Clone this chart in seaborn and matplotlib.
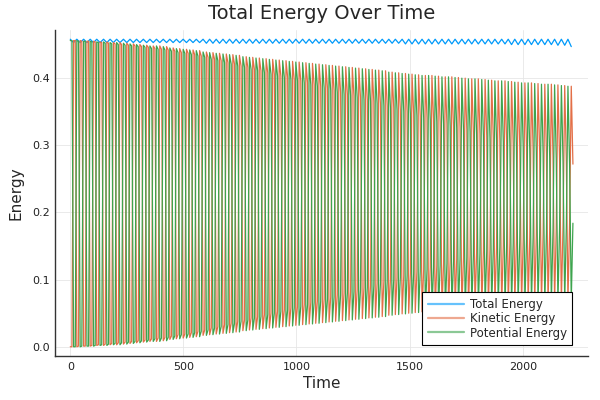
import pandas as pd
import seaborn as sns
import matplotlib.pyplot as plt

# ---------------------------------------------------------------- data
# start time of each oscillation cycle
cycle_start = [0, 29, 59, 88, 117, 147, 176, 205, 235, 264,
               293, 323, 352, 381, 411, 440, 469, 499, 528, 557,
               587, 616, 645, 675, 704, 733, 763, 792, 821, 851,
               880, 909, 939, 968, 997, 1027, 1056, 1085, 1115, 1144,
               1173, 1203, 1232, 1261, 1291, 1320, 1349, 1379, 1408, 1437,
               1467, 1496, 1525, 1555, 1584, 1613, 1643, 1672, 1701, 1731,
               1760, 1789, 1819, 1848, 1877, 1907, 1936, 1965, 1995, 2024,
               2053, 2083, 2112, 2141, 2171, 2200]
# sample times inside one cycle
sample_offsets = [0.0, 7.3, 14.7, 22.0]

# envelopes of the oscillating energies, one value per cycle
upper_peak = [0.456, 0.456, 0.455, 0.455, 0.454, 0.454, 0.453, 0.453, 0.452, 0.451,
              0.450, 0.449, 0.448, 0.448, 0.447, 0.445, 0.444, 0.443, 0.442, 0.441,
              0.439, 0.438, 0.437, 0.436, 0.435, 0.434, 0.432, 0.431, 0.430, 0.429,
              0.428, 0.427, 0.426, 0.425, 0.424, 0.423, 0.422, 0.421, 0.420, 0.419,
              0.418, 0.417, 0.416, 0.415, 0.414, 0.413, 0.412, 0.411, 0.409, 0.408,
              0.407, 0.406, 0.405, 0.404, 0.404, 0.403, 0.402, 0.402, 0.401, 0.400,
              0.399, 0.399, 0.398, 0.397, 0.396, 0.396, 0.395, 0.394, 0.393, 0.393,
              0.392, 0.391, 0.391, 0.390, 0.389, 0.388]
upper_inner = [0.456, 0.455, 0.455, 0.454, 0.453, 0.452, 0.451, 0.450, 0.449, 0.448,
               0.447, 0.446, 0.444, 0.443, 0.442, 0.440, 0.438, 0.437, 0.435, 0.433,
               0.431, 0.428, 0.426, 0.423, 0.421, 0.418, 0.416, 0.413, 0.411, 0.408,
               0.406, 0.403, 0.401, 0.398, 0.396, 0.393, 0.390, 0.388, 0.385, 0.382,
               0.379, 0.376, 0.374, 0.371, 0.368, 0.365, 0.362, 0.359, 0.356, 0.353,
               0.350, 0.347, 0.344, 0.341, 0.338, 0.335, 0.332, 0.329, 0.326, 0.323,
               0.320, 0.317, 0.314, 0.311, 0.308, 0.305, 0.302, 0.299, 0.296, 0.293,
               0.290, 0.287, 0.283, 0.280, 0.276, 0.272]
lower_trough = [0.000, 0.000, 0.001, 0.001, 0.002, 0.002, 0.003, 0.003, 0.004, 0.005,
                0.006, 0.007, 0.008, 0.008, 0.009, 0.011, 0.012, 0.013, 0.014, 0.015,
                0.017, 0.018, 0.019, 0.020, 0.021, 0.022, 0.024, 0.025, 0.026, 0.027,
                0.028, 0.029, 0.030, 0.031, 0.032, 0.033, 0.034, 0.035, 0.036, 0.037,
                0.038, 0.039, 0.040, 0.041, 0.042, 0.043, 0.044, 0.045, 0.047, 0.048,
                0.049, 0.050, 0.051, 0.052, 0.052, 0.053, 0.054, 0.054, 0.055, 0.056,
                0.057, 0.057, 0.058, 0.059, 0.060, 0.060, 0.061, 0.062, 0.063, 0.063,
                0.064, 0.065, 0.065, 0.066, 0.067, 0.068]
lower_inner = [0.000, 0.001, 0.001, 0.002, 0.003, 0.004, 0.005, 0.006, 0.007, 0.008,
               0.009, 0.010, 0.012, 0.013, 0.014, 0.016, 0.018, 0.019, 0.021, 0.023,
               0.025, 0.028, 0.030, 0.033, 0.035, 0.038, 0.040, 0.043, 0.045, 0.048,
               0.050, 0.053, 0.055, 0.058, 0.060, 0.063, 0.066, 0.068, 0.071, 0.074,
               0.077, 0.080, 0.082, 0.085, 0.088, 0.091, 0.094, 0.097, 0.100, 0.103,
               0.106, 0.109, 0.112, 0.115, 0.118, 0.121, 0.124, 0.127, 0.130, 0.133,
               0.136, 0.139, 0.142, 0.145, 0.148, 0.151, 0.154, 0.157, 0.160, 0.163,
               0.166, 0.169, 0.173, 0.176, 0.180, 0.184]

# total energy wiggle, high and low value per cycle
total_hi = [0.458, 0.458, 0.458, 0.458, 0.458, 0.458, 0.458, 0.458, 0.458, 0.458,
            0.458, 0.458, 0.458, 0.458, 0.458, 0.458, 0.458, 0.458, 0.458, 0.458,
            0.458, 0.458, 0.458, 0.458, 0.458, 0.458, 0.458, 0.458, 0.458, 0.458,
            0.458, 0.458, 0.458, 0.458, 0.458, 0.458, 0.458, 0.458, 0.458, 0.458,
            0.458, 0.458, 0.458, 0.458, 0.458, 0.458, 0.458, 0.458, 0.458, 0.458,
            0.458, 0.458, 0.458, 0.458, 0.458, 0.458, 0.458, 0.458, 0.458, 0.458,
            0.458, 0.458, 0.458, 0.458, 0.458, 0.458, 0.458, 0.458, 0.458, 0.458,
            0.458, 0.458, 0.458, 0.458, 0.458, 0.458]
total_lo = [0.453, 0.453, 0.453, 0.453, 0.453, 0.453, 0.453, 0.453, 0.453, 0.453,
            0.453, 0.453, 0.453, 0.453, 0.453, 0.453, 0.453, 0.453, 0.453, 0.453,
            0.452, 0.452, 0.452, 0.452, 0.452, 0.452, 0.452, 0.452, 0.452, 0.452,
            0.452, 0.452, 0.452, 0.452, 0.452, 0.452, 0.452, 0.452, 0.452, 0.452,
            0.452, 0.452, 0.452, 0.452, 0.452, 0.452, 0.452, 0.452, 0.452, 0.452,
            0.451, 0.451, 0.451, 0.451, 0.451, 0.451, 0.451, 0.451, 0.451, 0.451,
            0.451, 0.451, 0.451, 0.451, 0.451, 0.451, 0.450, 0.450, 0.450, 0.450,
            0.450, 0.450, 0.450, 0.449, 0.449, 0.447]

series_names = ['Total Energy', 'Kinetic Energy', 'Potential Energy']
series_colors = ['#009AFA', '#E36F47', '#3EA44E']


def build_frame():
    rows = []
    for k, t0 in enumerate(cycle_start):
        rows.append((t0 + sample_offsets[0], total_hi[k], 'Total Energy'))
        rows.append((t0 + sample_offsets[2], total_lo[k], 'Total Energy'))
        pe_vals = [upper_peak[k], upper_inner[k], lower_trough[k], lower_inner[k]]
        ke_vals = [lower_trough[k], lower_inner[k], upper_peak[k], upper_inner[k]]
        for off, ke, pe in zip(sample_offsets, ke_vals, pe_vals):
            rows.append((t0 + off, ke, 'Kinetic Energy'))
            rows.append((t0 + off, pe, 'Potential Energy'))
    return pd.DataFrame(rows, columns=['Time', 'Energy', 'Series'])


def main():
    df = build_frame()
    sns.set_style('white')
    plt.rcParams['font.family'] = ['DejaVu Sans']

    fig = plt.figure(figsize=(6, 4), dpi=100)
    ax = fig.add_axes([0.092, 0.11, 0.888, 0.815])
    sns.lineplot(data=df, x='Time', y='Energy', hue='Series', hue_order=series_names,
                 palette=dict(zip(series_names, series_colors)), estimator=None,
                 sort=False, lw=0.9, ax=ax)

    ax.margins(x=0.03, y=0.03)
    ax.set_xticks([0, 500, 1000, 1500, 2000])
    ax.set_yticks([0.0, 0.1, 0.2, 0.3, 0.4])
    ax.grid(True, color='#e6e6e6', lw=0.6)
    ax.set_axisbelow(True)
    for side in ['top', 'right']:
        ax.spines[side].set_visible(False)
    for side in ['left', 'bottom']:
        ax.spines[side].set_color('#333333')
        ax.spines[side].set_linewidth(1.0)
    ax.tick_params(direction='in', length=4, width=0.8, color='#222222',
                   labelsize=8, labelcolor='#222222', pad=4)

    ax.set_title('Total Energy Over Time', fontsize=14, pad=8)
    ax.set_xlabel('Time', fontsize=11, labelpad=3)
    ax.set_ylabel('Energy', fontsize=11, labelpad=6)

    leg = ax.legend(loc='lower right', bbox_to_anchor=(0.97, 0.034), borderaxespad=0,
                    fontsize=8.5, frameon=True, fancybox=False, framealpha=1,
                    edgecolor='black', handlelength=3.1, handletextpad=0.45,
                    labelspacing=0.12, borderpad=0.45)
    leg.get_frame().set_linewidth(0.8)
    for line in leg.get_lines():
        line.set_linewidth(1.6)
        line.set_alpha(0.6)

    fig.savefig('out.png', dpi=100)


if __name__ == "__main__":
    main()
